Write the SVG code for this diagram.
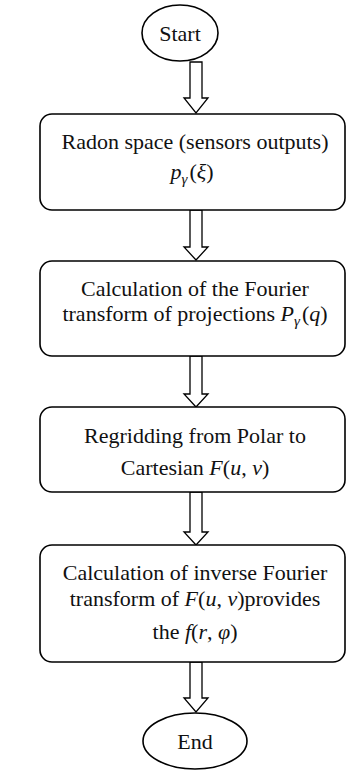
<svg xmlns="http://www.w3.org/2000/svg" width="363" height="770" viewBox="0 0 363 770">
<style>
.n{fill:#fff;stroke:#000;stroke-width:1.6}
.a{fill:#fff;stroke:#000;stroke-width:1.3;stroke-linejoin:miter}
text{font-family:"Liberation Serif","Times New Roman",serif;font-size:22px;fill:#111;text-anchor:middle}
.m{font-style:italic}
.s{font-size:15px;font-style:italic}
</style>
<g id="connectors">
<path class="a" d="M190,62 V98 H184 L196,113 L208,98 H202 V62 Z"/>
<path class="a" d="M190,210 V247 H184 L196,260 L208,247 H202 V210 Z"/>
<path class="a" d="M190,356 V394 H184 L196,407 L208,394 H202 V356 Z"/>
<path class="a" d="M190,492 V532 H184 L196,545 L208,532 H202 V492 Z"/>
<path class="a" d="M190,662 V698 H184 L196,712 L208,698 H202 V662 Z"/>
</g>
<g id="start">
<ellipse class="n" cx="180" cy="33" rx="38" ry="28"/>
<text x="180" y="41">Start</text>
</g>
<g id="radon">
<rect class="n" x="40" y="114" width="305" height="96" rx="12"/>
<text x="195" y="149">Radon space (sensors outputs)</text>
<text x="192" y="179"><tspan class="m">p</tspan><tspan class="s" dy="5">γ</tspan><tspan dy="-5" dx="2">(</tspan><tspan class="m">ξ</tspan>)</text>
</g>
<g id="fourier">
<rect class="n" x="40" y="261" width="305" height="95" rx="12"/>
<text x="195" y="296">Calculation of the Fourier</text>
<text x="195" y="321">transform of projections <tspan class="m">P</tspan><tspan class="s" dy="5">γ</tspan><tspan dy="-5" dx="2">(</tspan><tspan class="m">q</tspan>)</text>
</g>
<g id="regrid">
<rect class="n" x="40" y="407" width="305" height="85" rx="12"/>
<text x="195" y="443">Regridding from Polar to</text>
<text x="195" y="475">Cartesian  <tspan class="m">F</tspan>(<tspan class="m">u</tspan>, <tspan class="m">v</tspan>)</text>
</g>
<g id="inverse">
<rect class="n" x="40" y="545" width="305" height="117" rx="12"/>
<text x="195" y="580">Calculation of inverse Fourier</text>
<text x="195" y="606">transform of <tspan class="m">F</tspan>(<tspan class="m">u</tspan>, <tspan class="m">v</tspan>)provides</text>
<text x="195" y="639">the  <tspan class="m">f</tspan>(<tspan class="m">r</tspan>, <tspan class="m">φ</tspan>)</text>
</g>
<g id="end">
<ellipse class="n" cx="195" cy="741" rx="52" ry="28"/>
<text x="195" y="749">End</text>
</g>
</svg>
